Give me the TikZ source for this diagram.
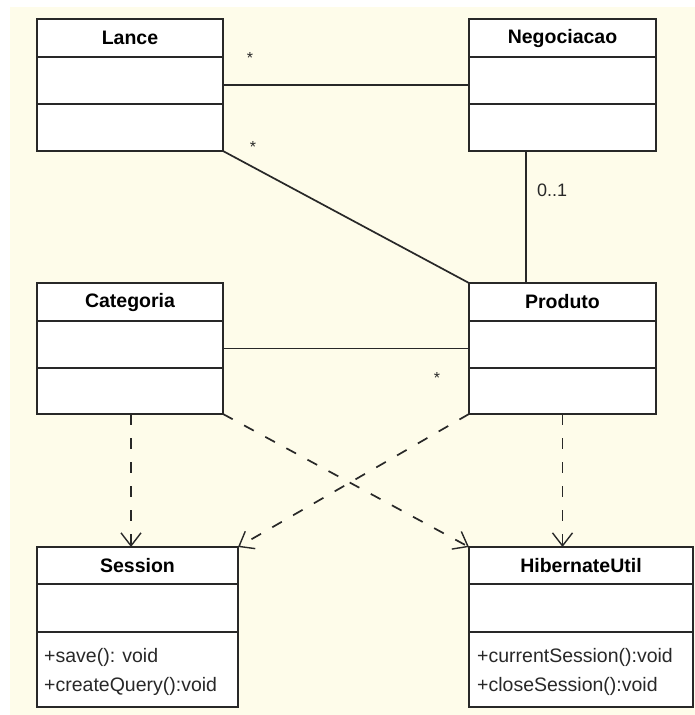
\documentclass[tikz,border=0pt]{standalone}
\usepackage{fontspec}
\setmainfont{Liberation Sans}
\usetikzlibrary{arrows.meta}
\definecolor{bgyellow}{RGB}{254,252,234}
\definecolor{ink}{RGB}{40,40,40}
\tikzset{
  classbox/.style={draw=ink, fill=white, line width=1.8pt, inner sep=0pt, outer sep=0pt},
  divider/.style={draw=ink, line width=1.8pt},
  ctitle/.style={font=\bfseries\fontsize{19.5}{22}\selectfont, text=black, inner sep=0pt},
  method/.style={font=\fontsize{19.5}{22}\selectfont, text=ink, inner sep=0pt, anchor=west},
  assoc/.style={draw=ink, line width=1.7pt},
  dep/.style={draw=ink, line width=1.7pt, dash pattern=on 11pt off 13pt,
    -{Straight Barb[length=13pt,width=20pt,line width=1.4pt]}},
  mult/.style={font=\fontsize{16}{18}\selectfont, text=ink, inner sep=0pt},
  multl/.style={font=\fontsize{18}{20}\selectfont, text=ink, inner sep=0pt}
}
\begin{document}
\begin{tikzpicture}[x=1pt,y=-1pt]
\useasboundingbox (0,0) rectangle (695,715);
\fill[white] (0,0) rectangle (695,715);
\fill[bgyellow] (10,7) rectangle (695,715);

% Lance
\node[classbox, minimum width=186pt, minimum height=132pt] (lance) at (130,85) {};
\draw[divider] (37,57) -- (223,57);
\draw[divider] (37,104) -- (223,104);
\node[ctitle] (lanceT) at (130,38) {Lance};

% Negociacao
\node[classbox, minimum width=187pt, minimum height=132pt] (neg) at (562.5,85) {};
\draw[divider] (469,57) -- (656,57);
\draw[divider] (469,104) -- (656,104);
\node[ctitle] (negT) at (562.5,38) {Negociacao};

% Categoria
\node[classbox, minimum width=186pt, minimum height=131pt] (cat) at (130,348.5) {};
\draw[divider] (37,321) -- (223,321);
\draw[divider] (37,368) -- (223,368);
\node[ctitle] (catT) at (130,302) {Categoria};

% Produto
\node[classbox, minimum width=187pt, minimum height=131pt] (prod) at (562.5,348.5) {};
\draw[divider] (469,321) -- (656,321);
\draw[divider] (469,368) -- (656,368);
\node[ctitle] (prodT) at (562.5,302) {Produto};

% Session
\node[classbox, minimum width=201pt, minimum height=160pt] (sess) at (137.5,627) {};
\draw[divider] (37,584) -- (238,584);
\draw[divider] (37,632) -- (238,632);
\node[ctitle] (sessT) at (137.5,566) {Session};
\node[method] (sessM1) at (44,657) {+save(): void};
\node[method] (sessM2) at (44,686) {+createQuery():void};

% HibernateUtil
\node[classbox, minimum width=224pt, minimum height=160pt] (hib) at (581,627) {};
\draw[divider] (469,584) -- (693,584);
\draw[divider] (469,632) -- (693,632);
\node[ctitle] (hibT) at (581,566) {HibernateUtil};
\node[method] (hibM1) at (477,657) {+currentSession():void};
\node[method] (hibM2) at (477,686) {+closeSession():void};

% associations
\draw[assoc] (lance) -- (neg);
\draw[assoc] (lance.south east) -- (prod.north west);
\coordinate (npx) at (526,0);
\draw[assoc] (neg.south -| npx) -- (prod.north -| npx);
\draw[assoc] (cat) -- (prod);

% multiplicities
\node[mult] (m1) at (250,58) {*};
\node[mult] (m2) at (253,147) {*};
\node[mult] (m3) at (437,378) {*};
\node[multl, anchor=west] (m4) at (537,190) {0..1};

% dependencies
\coordinate (cx) at (131,0);
\draw[dep] (cat.south -| cx) -- (sess.north -| cx);
\draw[dep] (cat.south east) -- (hib.north west);
\draw[dep] (prod.south west) -- (sess.north east);
\draw[dep] (prod.south) -- (hib.north -| prod.south);
\end{tikzpicture}
\end{document}
